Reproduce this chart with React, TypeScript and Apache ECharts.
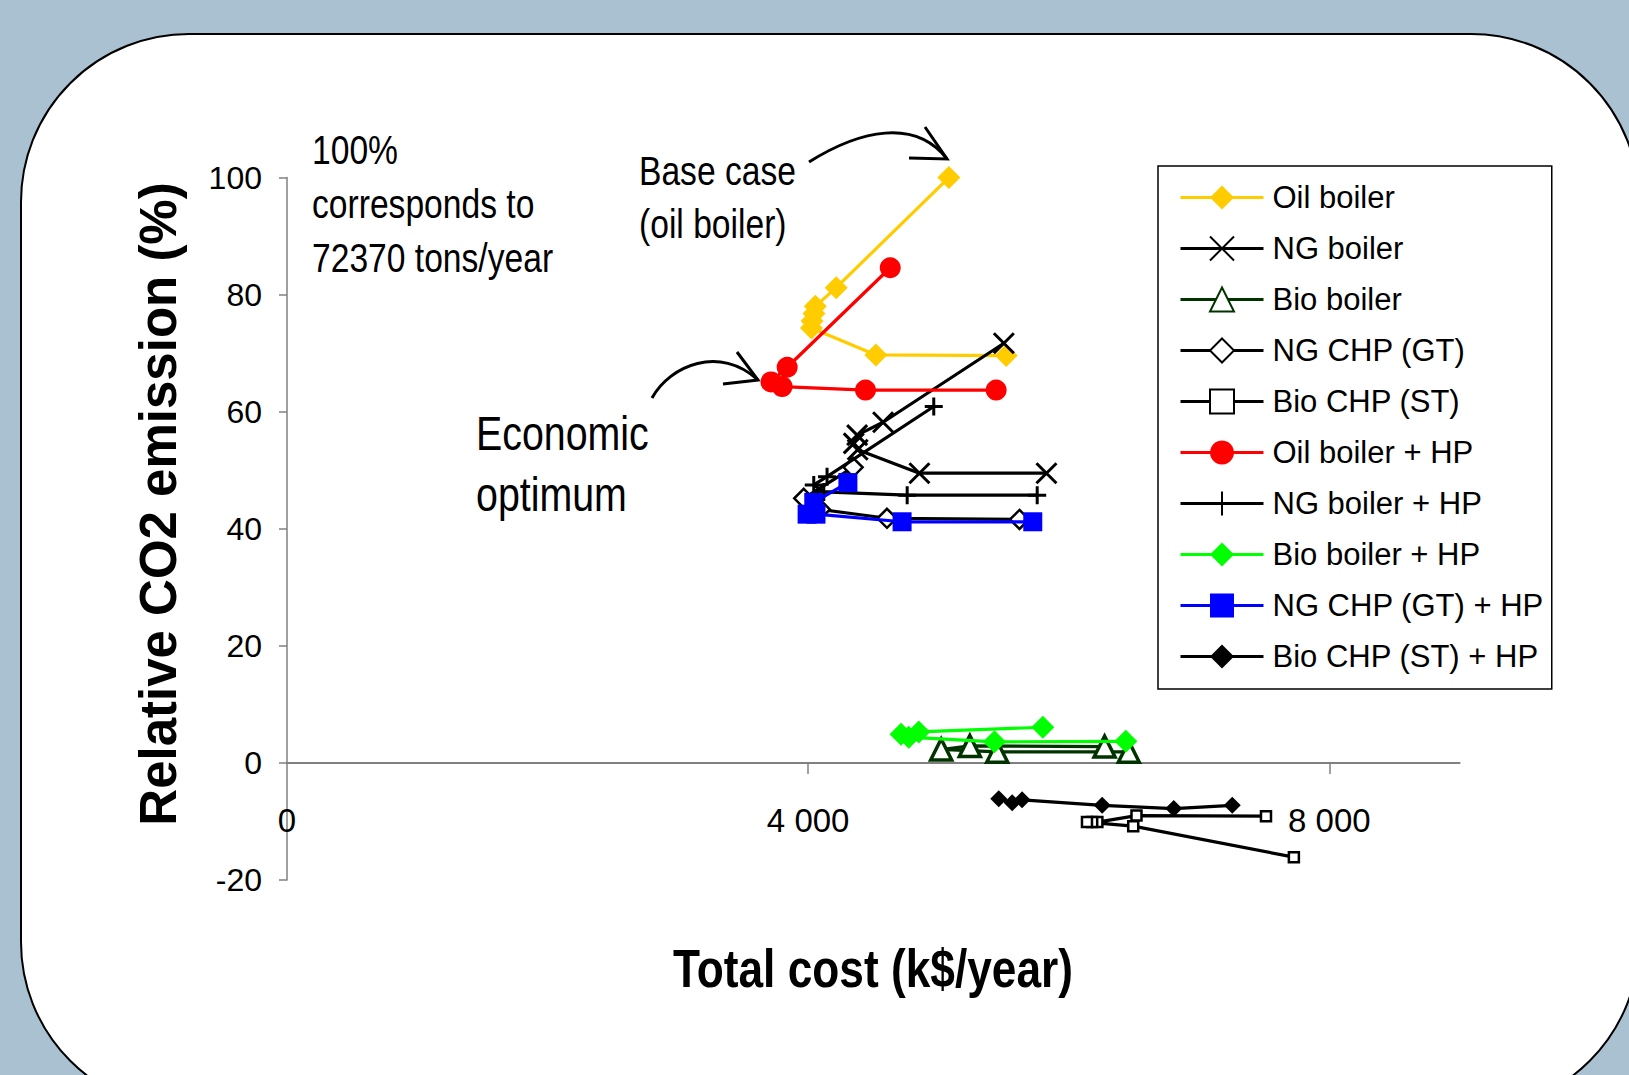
import React, { useEffect, useRef } from 'react';
import * as echarts from 'echarts';

const SERIES_NAMES = [
  'Oil boiler',
  'NG boiler',
  'Bio boiler',
  'NG CHP (GT)',
  'Bio CHP (ST)',
  'Oil boiler + HP',
  'NG boiler + HP',
  'Bio boiler + HP',
  'NG CHP (GT) + HP',
  'Bio CHP (ST) + HP',
];

// [total cost k$/year, relative CO2 %]
const OIL_BOILER = [[5080, 100], [4215, 81.2], [4055, 78], [4045, 76.8], [4030, 75.5], [4025, 74.3], [4520, 69.7], [5520, 69.6]];
const NG_BOILER = [[5502, 71.7], [4575, 58.2], [4376, 56], [4350, 54.6], [4380, 53.5], [4854, 49.5], [5829, 49.5]];
const BIO_BOILER = [[6275, 2.8], [5241, 2.9], [5021, 2.3], [5451, 1.9], [6461, 1.9]];
const NG_CHP_GT = [[4345, 50.5], [3966, 45.2], [4094, 43.3], [4605, 41.8], [5622, 41.6]];
const BIO_CHP_ST = [[7514, -9.1], [6520, -9.0], [6220, -10.1], [6180, -10.1], [6140, -10.1], [6495, -10.8], [7728, -16.1]];
const OIL_BOILER_HP = [[4630, 84.6], [3839, 67.6], [3715, 65.1], [3800, 64.3], [4440, 63.7], [5443, 63.7]];
const NG_BOILER_HP = [[4964, 60.9], [4145, 48.9], [4043, 47.5], [4120, 46.3], [4760, 45.75], [5758, 45.75]];
const BIO_BOILER_HP = [[5801, 6.1], [4849, 5.3], [4713, 4.9], [4772, 4.4], [5430, 3.6], [6438, 3.7]];
const NG_CHP_GT_HP = [[4305, 47.9], [4043, 44.5], [3992, 42.5], [4060, 42.5], [4721, 41.2], [5724, 41.2]];
const BIO_CHP_ST_HP = [[5463, -6.1], [5566, -6.8], [5642, -6.3], [6257, -7.25], [6806, -7.8], [7255, -7.25]];

const X_MIN = 0;
const X_MAX = 9000;
const X_TICKS = [4000, 8000];
const X_LABELS = [0, 4000, 8000];
const Y_MIN = -20;
const Y_MAX = 100;
const Y_STEP = 20;

const NOTE_100 = ['100%', 'corresponds to', '72370 tons/year'];
const NOTE_BASE = ['Base case', '(oil boiler)'];
const NOTE_OPT = ['Economic', 'optimum'];
const X_TITLE = 'Total cost (k$/year)';
const Y_TITLE = 'Relative CO2 emission (%)';

const FONT = "'Liberation Sans', Arial, Helvetica, sans-serif";

const X_SYMBOL = 'path://M0,0L10,10M10,0L0,10';
const PLUS_SYMBOL = 'path://M5,0L5,10M0,5L10,5';

function mk(name: string, data: number[][], symbol: string, size: number, lineColor: string, fill: string, border: string, bw: number, z: number) {
  return {
    type: 'line',
    name,
    data,
    symbol,
    symbolSize: size,
    z,
    lineStyle: { color: lineColor, width: 3.2 },
    itemStyle: { color: fill, borderColor: border, borderWidth: bw },
    emphasis: { disabled: true },
  };
}

function fmtThousands(v: number) {
  return String(v).replace(/\B(?=(\d{3})+(?!\d))/g, ' ');
}

export default function App() {
  const ref = useRef<HTMLDivElement>(null);
  useEffect(() => {
    if (!ref.current) return;
    const chart = echarts.init(ref.current, null, { renderer: 'svg' });
    const text = (t: string, x: number, y: number, size: number, weight = 'normal', align = 'left', rotation = 0, sx = 0.82) => ({
      type: 'text',
      x,
      y,
      rotation,
      scaleX: sx,
      z: 50,
      silent: true,
      style: {
        text: t,
        fill: '#000',
        fontSize: size,
        fontFamily: FONT,
        fontWeight: weight,
        align,
        verticalAlign: 'middle',
        textAlign: align,
        textVerticalAlign: 'middle',
      },
    });
    const arrowStyle = { stroke: '#000', lineWidth: 3, fill: 'none' };
    const option: any = {
      animation: false,
      backgroundColor: '#a9c1d1',
      grid: { left: 287, top: 177.6, width: 1172.6, height: 702.4, containLabel: false },
      xAxis: {
        type: 'value',
        min: X_MIN,
        max: X_MAX,
        axisLine: { show: true, onZero: true, lineStyle: { color: '#808080', width: 2 } },
        axisTick: { show: true, customValues: X_TICKS, length: 11, lineStyle: { color: '#808080', width: 1.5 } },
        axisLabel: {
          customValues: X_LABELS,
          margin: -76,
          fontSize: 33,
          fontFamily: FONT,
          color: '#000',
          formatter: (v: number) => fmtThousands(v),
        },
        splitLine: { show: false },
      },
      yAxis: {
        type: 'value',
        min: Y_MIN,
        max: Y_MAX,
        interval: Y_STEP,
        axisLine: { show: true, lineStyle: { color: '#808080', width: 1.5 } },
        axisTick: { show: true, length: 8, lineStyle: { color: '#808080', width: 1.5 } },
        axisLabel: { margin: 25, fontSize: 32, fontFamily: FONT, color: '#000' },
        splitLine: { show: false },
      },
      legend: {
        orient: 'vertical',
        left: 1158,
        top: 166,
        backgroundColor: '#fff',
        borderColor: '#000',
        borderWidth: 1.5,
        padding: [13, 8, 14, 21],
        itemWidth: 83,
        itemHeight: 30,
        itemGap: 14,
        selectedMode: false,
        lineStyle: { width: 3 },
        textStyle: { fontFamily: FONT, fontSize: 31, lineHeight: 37, color: '#000', padding: [0, 0, 0, 4] },
        data: SERIES_NAMES,
      },
      series: [
        mk(SERIES_NAMES[0], OIL_BOILER, 'diamond', 23, '#ffcc00', '#ffcc00', '#ffcc00', 0, 2),
        mk(SERIES_NAMES[1], NG_BOILER, X_SYMBOL, 20, '#000', '#000', '#000', 3, 3),
        mk(SERIES_NAMES[2], BIO_BOILER, 'triangle', 21, '#003300', '#fff', '#003300', 3.5, 4),
        mk(SERIES_NAMES[3], NG_CHP_GT, 'diamond', 19, '#000', '#fff', '#000', 2.5, 5),
        mk(SERIES_NAMES[4], BIO_CHP_ST, 'rect', 10, '#000', '#fff', '#000', 2.5, 6),
        mk(SERIES_NAMES[5], OIL_BOILER_HP, 'circle', 21, '#ff0000', '#ff0000', '#ff0000', 0, 7),
        mk(SERIES_NAMES[6], NG_BOILER_HP, PLUS_SYMBOL, 18, '#000', '#000', '#000', 3, 8),
        mk(SERIES_NAMES[7], BIO_BOILER_HP, 'diamond', 23, '#00ff00', '#00ff00', '#00ff00', 0, 9),
        mk(SERIES_NAMES[8], NG_CHP_GT_HP, 'rect', 19, '#0000ff', '#0000ff', '#0000ff', 0, 10),
        mk(SERIES_NAMES[9], BIO_CHP_ST_HP, 'diamond', 17, '#000', '#000', '#000', 0, 11),
      ],
      graphic: [
        {
          type: 'rect',
          z: -10,
          silent: true,
          shape: { x: 21, y: 34, width: 1618, height: 1076, r: 168 },
          style: { fill: '#fff', stroke: '#000', lineWidth: 2 },
        },
        text(NOTE_100[0], 312, 150, 41),
        text(NOTE_100[1], 312, 203.5, 41),
        text(NOTE_100[2], 312, 257.5, 41),
        text(NOTE_BASE[0], 639, 171, 41),
        text(NOTE_BASE[1], 639, 224, 41),
        text(NOTE_OPT[0], 476, 433.5, 48),
        text(NOTE_OPT[1], 476, 494, 48),
        text(Y_TITLE, 158, 504, 51, 'bold', 'center', Math.PI / 2, 1),
        text(X_TITLE, 873, 968, 54, 'bold', 'center'),
        {
          type: 'bezierCurve', z: 50, silent: true,
          shape: { x1: 809, y1: 162, cpx1: 860, cpy1: 130, cpx2: 915, cpy2: 118, x2: 947, y2: 159 },
          style: arrowStyle,
        },
        {
          type: 'polyline', z: 50, silent: true,
          shape: { points: [[909, 158], [947, 159], [925, 127]] },
          style: arrowStyle,
        },
        {
          type: 'bezierCurve', z: 50, silent: true,
          shape: { x1: 652, y1: 398, cpx1: 670, cpy1: 365, cpx2: 720, cpy2: 345, x2: 758, y2: 380 },
          style: arrowStyle,
        },
        {
          type: 'polyline', z: 50, silent: true,
          shape: { points: [[723, 384], [758, 380], [737, 352]] },
          style: arrowStyle,
        },
      ],
    };
    chart.setOption(option);
    return () => chart.dispose();
  }, []);
  return (
    <div style={{ position: 'absolute', left: 0, top: 0, width: 1629, height: 1075, overflow: 'hidden' }}>
      <div ref={ref} style={{ width: 1629, height: 1075 }} />
    </div>
  );
}
